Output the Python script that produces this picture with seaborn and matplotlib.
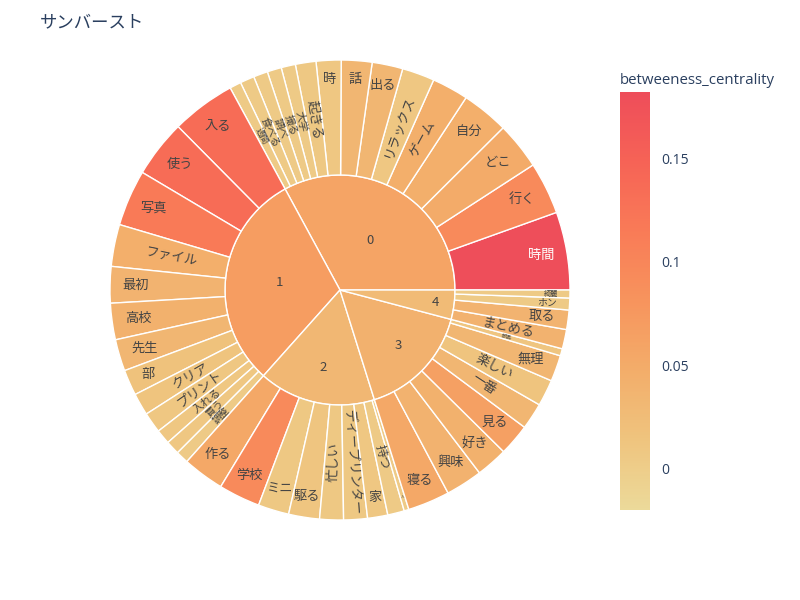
import numpy as np
import pandas as pd
import matplotlib
matplotlib.use("Agg")
import matplotlib.pyplot as plt
from matplotlib.patches import Wedge
from matplotlib.colors import Normalize
from matplotlib.cm import ScalarMappable
import seaborn as sns

# community -> words, word size and betweeness centrality
communities = ["0", "1", "2", "3", "4"]

words_0 = ["時間", "行く", "どこ", "自分", "ゲーム", "リラックス", "出る", "話", "時",
           "起きる", "大学", "撮る", "調べ", "食べる", "週間"]
sizes_0 = [19.7, 13.2, 11.9, 11.9, 9.2, 8.2, 7.75, 7.75, 6.3, 5.2, 3.6, 3.6, 3.6, 3.6, 2.9]
bc_0 = [0.180, 0.095, 0.050, 0.045, 0.045, 0.010, 0.035, 0.035, 0.010, 0.008,
        0.005, 0.005, 0.005, 0.005, 0.005]

words_1 = ["入る", "使う", "写真", "ファイル", "最初", "高校", "先生", "部", "クリア",
           "プリント", "入れる", "買う", "調整"]
sizes_1 = [16.2, 14.5, 14.2, 10.6, 9.2, 9.2, 8.0, 6.5, 5.6, 5.2, 3.7, 3.5, 3.2]
bc_1 = [0.135, 0.135, 0.115, 0.045, 0.038, 0.042, 0.035, 0.018, 0.014, 0.010,
        0.010, 0.010, 0.005]

words_2 = ["作る", "学校", "ミニ", "駆る", "忙しい", "ディープリンター", "家", "持つ", "人"]
sizes_2 = [10.5, 10.5, 7.8, 7.8, 6.0, 6.0, 5.1, 4.2, 1.2]
bc_2 = [0.055, 0.095, 0.008, 0.012, 0.008, 0.008, 0.010, 0.005, 0.005]

words_3 = ["寝る", "興味", "好き", "見る", "一番", "楽しい", "無理", "部品"]
sizes_3 = [10.6, 9.3, 8.0, 8.0, 6.7, 6.7, 6.6, 1.8]
bc_3 = [0.055, 0.040, 0.042, 0.065, 0.035, 0.014, 0.035, 0.012]

words_4 = ["まとめる", "取る", "ホン", "綺麗"]
sizes_4 = [4.9, 4.9, 3.0, 2.0]
bc_4 = [0.040, 0.038, 0.005, 0.005]

cbar_ticks = [0, 0.05, 0.1, 0.15]
cbar_labels = ["0", "0.05", "0.1", "0.15"]
cmin, cmax = -0.0198, 0.182

frames = []
for c, w, s, b in zip(communities,
                      [words_0, words_1, words_2, words_3, words_4],
                      [sizes_0, sizes_1, sizes_2, sizes_3, sizes_4],
                      [bc_0, bc_1, bc_2, bc_3, bc_4]):
    frames.append(pd.DataFrame({"community": c, "word": w, "size": s, "bc": b}))
df = pd.concat(frames, ignore_index=True)

sns.set_theme(style="white")
plt.rcParams["font.family"] = ["Noto Sans CJK JP", "DejaVu Sans"]

# plotly "OrYel" scale
oryel = ["#ecda9a", "#efc47e", "#f3ad6a", "#f7945d", "#f97b57", "#f66356", "#ee4d5a"]
cmap = sns.blend_palette(oryel, as_cmap=True)
norm = Normalize(cmin, cmax)

fig = plt.figure(figsize=(8, 6), dpi=100)
R_IN, R_OUT = 115, 230
cx, cy = 340, 290
ax = fig.add_axes([(cx - R_OUT) / 800, (600 - cy - R_OUT) / 600, 2 * R_OUT / 800, 2 * R_OUT / 600])
ax.set_xlim(-R_OUT, R_OUT)
ax.set_ylim(-R_OUT, R_OUT)
ax.set_aspect("equal")
ax.axis("off")

FS = 9.5
PX = FS * 100 / 72
TXT = "#444444"


def text_color(rgba):
    lum = 0.299 * rgba[0] + 0.587 * rgba[1] + 0.114 * rgba[2]
    return "white" if lum < 0.54 else TXT


def place(text, phi, dth):
    # pick horizontal or radial text, whichever fits better
    w, h = len(text) * PX, PX
    ph, dt = np.radians(phi), np.radians(dth)
    depth = R_OUT - R_IN - 6
    c, s = abs(np.cos(ph)), abs(np.sin(ph))
    rad_ext = w * c + h * s
    tan_ext = w * s + h * c
    r_c = R_OUT - 5 - rad_ext / 2
    sc_h = min(1, depth / rad_ext, r_c * dt / tan_ext)
    sc_r = min(1, depth / w, (R_IN + 0.5 * depth) * dt / h)
    horiz = (sc_h >= 0.97 or sc_h > sc_r) and (sc_h > sc_r or len(text) <= 2)
    if horiz:
        return R_OUT - 12 - rad_ext * sc_h / 2, 0, sc_h
    rot = phi - 180 if 90 < phi < 270 else phi
    return (R_IN + R_OUT) / 2, rot, sc_r


total = df["size"].sum()
start = 0.0
for comm, grp in df.groupby("community", sort=False):
    span = grp["size"].sum() / total * 360
    comm_val = np.average(grp["bc"], weights=grp["size"])
    col = cmap(norm(comm_val))
    ax.add_patch(Wedge((0, 0), R_IN, start, start + span, facecolor=col,
                       edgecolor="white", linewidth=1))
    mid = np.radians(start + span / 2)
    rf = 0.5 + 0.38 * (1 - span / 120)
    ax.text(R_IN * rf * np.cos(mid), R_IN * rf * np.sin(mid), comm,
            ha="center", va="center", fontsize=FS, color=TXT)

    t0 = start
    for _, row in grp.iterrows():
        dth = row["size"] / total * 360
        col = cmap(norm(row["bc"]))
        ax.add_patch(Wedge((0, 0), R_OUT, t0, t0 + dth, width=R_OUT - R_IN,
                           facecolor=col, edgecolor="white", linewidth=1))
        phi = t0 + dth / 2
        r, rot, sc = place(row["word"], phi, dth)
        if FS * sc >= 2.5:
            ax.text(r * np.cos(np.radians(phi)), r * np.sin(np.radians(phi)), row["word"],
                    ha="center", va="center", rotation=rot, rotation_mode="anchor",
                    fontsize=FS * sc, color=text_color(col))
        t0 += dth
    start += span

# colorbar
cax = fig.add_axes([620 / 800, (600 - 510) / 600, 30 / 800, 418 / 600])
cb = fig.colorbar(ScalarMappable(norm=norm, cmap=cmap), cax=cax, ticks=cbar_ticks)
cb.outline.set_visible(False)
cb.ax.set_yticklabels(cbar_labels)
cb.ax.tick_params(length=0, pad=8, labelsize=10, labelcolor="#2a3f5f")
for t in cb.ax.get_yticklabels():
    t.set_family(["Open Sans", "DejaVu Sans"])
fig.text(620 / 800, 1 - 80 / 600, "betweeness_centrality", fontsize=10.8,
         color="#2a3f5f", ha="left", va="center", family=["Open Sans", "DejaVu Sans"])

fig.text(40 / 800, 1 - 22 / 600, "サンバースト", fontsize=12.5, color="#2a3f5f",
         ha="left", va="center")

fig.savefig("out.png", dpi=100)
